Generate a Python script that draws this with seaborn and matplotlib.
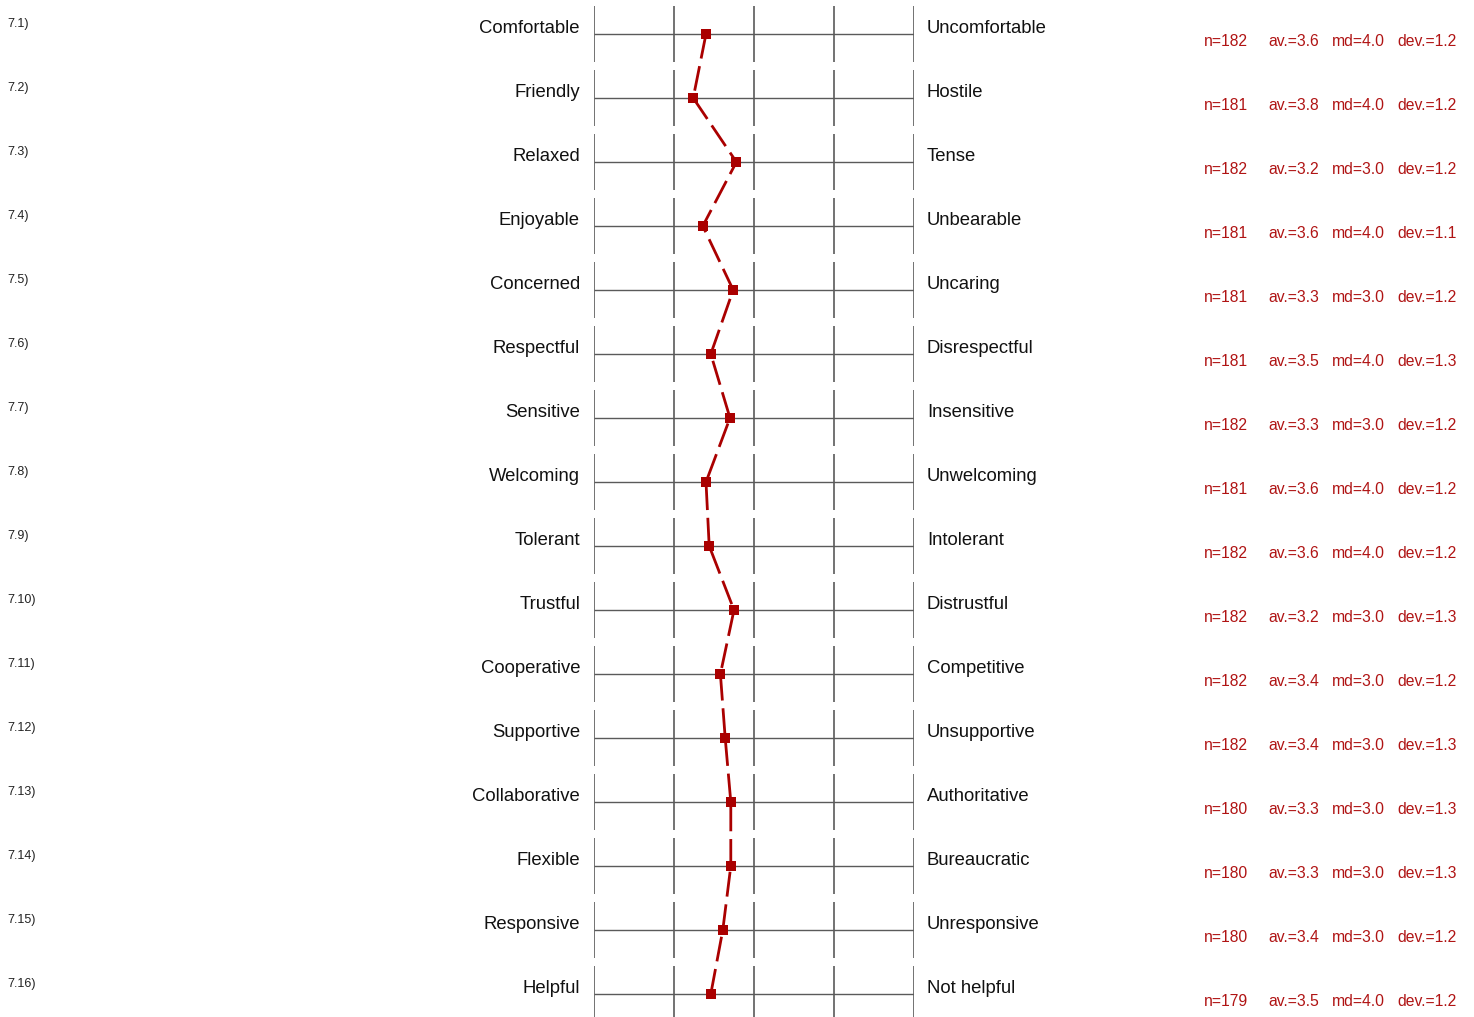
import pandas as pd
import seaborn as sns
import matplotlib.pyplot as plt
from matplotlib.transforms import blended_transform_factory

### dados do perfil (diferencial semantico)
itens = ["7.1)", "7.2)", "7.3)", "7.4)", "7.5)", "7.6)", "7.7)", "7.8)",
         "7.9)", "7.10)", "7.11)", "7.12)", "7.13)", "7.14)", "7.15)", "7.16)"]
polo_esq = ["Comfortable", "Friendly", "Relaxed", "Enjoyable", "Concerned", "Respectful",
            "Sensitive", "Welcoming", "Tolerant", "Trustful", "Cooperative", "Supportive",
            "Collaborative", "Flexible", "Responsive", "Helpful"]
polo_dir = ["Uncomfortable", "Hostile", "Tense", "Unbearable", "Uncaring", "Disrespectful",
            "Insensitive", "Unwelcoming", "Intolerant", "Distrustful", "Competitive",
            "Unsupportive", "Authoritative", "Bureaucratic", "Unresponsive", "Not helpful"]
medias = [3.60, 3.76, 3.22, 3.64, 3.26, 3.54, 3.30, 3.60,
          3.56, 3.25, 3.42, 3.36, 3.29, 3.29, 3.39, 3.54]
n = [182, 181, 182, 181, 181, 181, 182, 181, 182, 182, 182, 182, 180, 180, 180, 179]
av = [3.6, 3.8, 3.2, 3.6, 3.3, 3.5, 3.3, 3.6, 3.6, 3.2, 3.4, 3.4, 3.3, 3.3, 3.4, 3.5]
md = [4.0, 4.0, 3.0, 4.0, 3.0, 4.0, 3.0, 4.0, 4.0, 3.0, 3.0, 3.0, 3.0, 3.0, 3.0, 4.0]
dev = [1.2, 1.2, 1.2, 1.1, 1.2, 1.3, 1.2, 1.2, 1.2, 1.3, 1.2, 1.3, 1.3, 1.3, 1.2, 1.2]
escala = [5, 4, 3, 2, 1]

df = pd.DataFrame({"linha": range(len(itens)), "media": medias})

sns.set_style("white")
plt.rcParams["font.family"] = ["Liberation Sans", "DejaVu Sans"]

W, H = 1474, 1017
fig = plt.figure(figsize=(W / 100, H / 100), dpi=100)

# eixo da grade em coordenadas de pixel
x0, x1 = 594, 914
topo, base = 2, 1018
ax = fig.add_axes([x0 / W, 1 - base / H, (x1 - x0) / W, (base - topo) / H])

cinza = "#5a5a5a"
vermelho = "#aa0000"
for i in range(len(itens)):
    ax.hlines(i, max(escala), min(escala), color=cinza, lw=1.0, zorder=1)
    ax.vlines(escala, i - 0.44, i + 0.44, color=cinza, lw=1.2, zorder=1)

sns.lineplot(data=df, x="media", y="linha", orient="y", sort=False, estimator=None,
             color=vermelho, lw=2.0, linestyle=(0, (9, 2.8)), marker="s",
             markersize=6.5, markeredgewidth=0, ax=ax, zorder=3)
ax.set_xlim(max(escala), min(escala))
ax.set_ylim(-0.5 + (base - topo) / 64, -0.5)
ax.axis("off")

tr = blended_transform_factory(fig.transFigure, ax.transData)
for i in range(len(itens)):
    ax.text(7 / W, i - 0.16, itens[i], transform=tr, fontsize=9, ha="left",
            va="center", color="#222222")
    ax.text(580 / W, i - 0.09, polo_esq[i], transform=tr, fontsize=13.3, ha="right",
            va="center", color="#111111")
    ax.text(927 / W, i - 0.09, polo_dir[i], transform=tr, fontsize=13.3, ha="left",
            va="center", color="#111111")
    partes = ["n=%d" % n[i], "av.=%.1f" % av[i], "md=%.1f" % md[i], "dev.=%.1f" % dev[i]]
    for xp, txt in zip([1204, 1268, 1332, 1397], partes):
        ax.text(xp / W, i + 0.11, txt, transform=tr, fontsize=11.3, ha="left",
                va="center", color="#b01414")

fig.savefig("out.png", dpi=100)
